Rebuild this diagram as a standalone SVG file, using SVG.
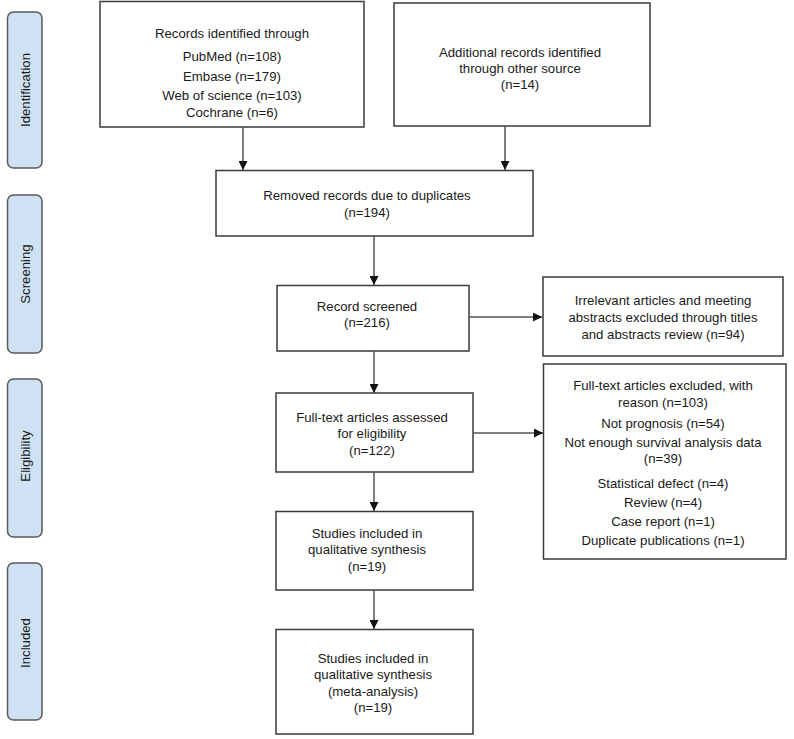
<svg xmlns="http://www.w3.org/2000/svg" width="794" height="739" viewBox="0 0 794 739">
<defs>
<marker id="arr" markerUnits="userSpaceOnUse" markerWidth="9" markerHeight="9" refX="9" refY="4.5" orient="auto">
<path d="M0,0 L9,4.5 L0,9 z" fill="#111"/>
</marker>
</defs>
<style>
.box{fill:#fff;stroke:#3a3a3a;stroke-width:1.5}
.bar{fill:#cfe2f3;stroke:#5a5a5a;stroke-width:1.5}
.t{font-family:"Liberation Sans",Arial,sans-serif;font-size:13.2px;fill:#1a1a1a;text-anchor:middle;dominant-baseline:central}
.c{fill:none;stroke:#555;stroke-width:1.5;marker-end:url(#arr)}
</style>
<rect width="794" height="739" fill="#fff"/>
<g id="phase-identification">
<rect class="bar" x="7.5" y="12" width="34.5" height="156" rx="6"/>
<text class="t" transform="translate(25,90) rotate(-90)">Identification</text>
</g>
<g id="phase-screening">
<rect class="bar" x="7.5" y="195" width="34.5" height="158" rx="6"/>
<text class="t" transform="translate(25,274) rotate(-90)">Screening</text>
</g>
<g id="phase-eligibility">
<rect class="bar" x="7.5" y="379" width="34.5" height="158" rx="6"/>
<text class="t" transform="translate(25,456) rotate(-90)">Eligibility</text>
</g>
<g id="phase-included">
<rect class="bar" x="7.5" y="563" width="34.5" height="157" rx="6"/>
<text class="t" transform="translate(25,643) rotate(-90)">Included</text>
</g>
<g id="records-db">
<rect class="box" x="100" y="1.5" width="264" height="125.5"/>
<text class="t" x="232" y="33">Records identified through</text>
<text class="t" x="232" y="56">PubMed (n=108)</text>
<text class="t" x="232" y="76">Embase (n=179)</text>
<text class="t" x="232" y="95">Web of science (n=103)</text>
<text class="t" x="232" y="112.5">Cochrane (n=6)</text>
</g>
<g id="records-other">
<rect class="box" x="394" y="3" width="256" height="123"/>
<text class="t" x="520" y="52">Additional records identified</text>
<text class="t" x="520" y="68">through other source</text>
<text class="t" x="520" y="84">(n=14)</text>
</g>
<g id="duplicates">
<rect class="box" x="216" y="170.5" width="317" height="65.5"/>
<text class="t" x="367" y="195">Removed records due to duplicates</text>
<text class="t" x="367" y="212">(n=194)</text>
</g>
<g id="screened">
<rect class="box" x="277" y="285.5" width="192" height="65.5"/>
<text class="t" x="367" y="306.5">Record screened</text>
<text class="t" x="367" y="322.5">(n=216)</text>
</g>
<g id="excluded-screening">
<rect class="box" x="543" y="277" width="240" height="79"/>
<text class="t" x="663" y="300">Irrelevant articles and meeting</text>
<text class="t" x="663" y="317">abstracts excluded through titles</text>
<text class="t" x="663" y="334">and abstracts review (n=94)</text>
</g>
<g id="fulltext">
<rect class="box" x="276" y="393" width="197" height="79"/>
<text class="t" x="372" y="417">Full-text articles assessed</text>
<text class="t" x="372" y="433">for eligibility</text>
<text class="t" x="372" y="450">(n=122)</text>
</g>
<g id="excluded-fulltext">
<rect class="box" x="543.5" y="364" width="242.5" height="195"/>
<text class="t" x="663" y="385">Full-text articles excluded, with</text>
<text class="t" x="663" y="402">reason (n=103)</text>
<text class="t" x="663" y="423">Not prognosis (n=54)</text>
<text class="t" x="663" y="442">Not enough survival analysis data</text>
<text class="t" x="663" y="458">(n=39)</text>
<text class="t" x="663" y="483">Statistical defect (n=4)</text>
<text class="t" x="663" y="502">Review (n=4)</text>
<text class="t" x="663" y="521">Case report (n=1)</text>
<text class="t" x="663" y="540">Duplicate publications (n=1)</text>
</g>
<g id="qualitative">
<rect class="box" x="276" y="511.5" width="197" height="78.5"/>
<text class="t" x="367" y="533">Studies included in</text>
<text class="t" x="367" y="549">qualitative synthesis</text>
<text class="t" x="367" y="566">(n=19)</text>
</g>
<g id="meta">
<rect class="box" x="276" y="629.5" width="197" height="104.5"/>
<text class="t" x="373" y="658">Studies included in</text>
<text class="t" x="373" y="674">qualitative synthesis</text>
<text class="t" x="373" y="691">(meta-analysis)</text>
<text class="t" x="373" y="707">(n=19)</text>
</g>
<g id="connectors">
<line class="c" x1="243" y1="127" x2="243" y2="170"/>
<line class="c" x1="505" y1="126" x2="505" y2="170"/>
<line class="c" x1="374" y1="236" x2="374" y2="285"/>
<line class="c" x1="374" y1="351" x2="374" y2="393"/>
<line class="c" x1="469" y1="317" x2="542" y2="317"/>
<line class="c" x1="473" y1="433" x2="543" y2="433"/>
<line class="c" x1="374" y1="472" x2="374" y2="511"/>
<line class="c" x1="374" y1="590" x2="374" y2="629"/>
</g>
</svg>
